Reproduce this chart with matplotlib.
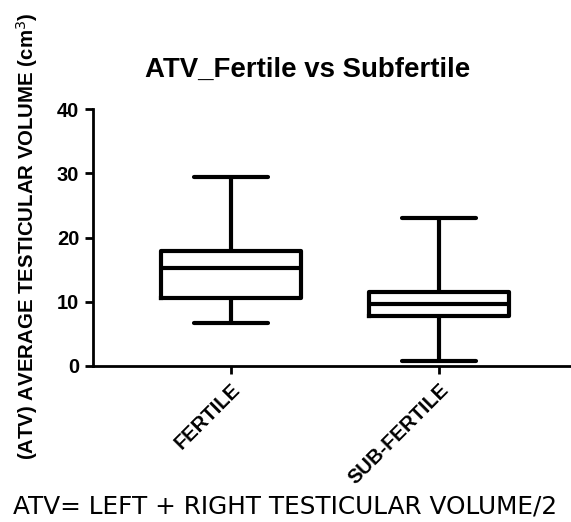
import matplotlib.pyplot as plt

# values (cm^3)
groups = ["FERTILE", "SUB-FERTILE"]
whisker_low = [6.7, 0.7]
q1 = [10.6, 7.7]
median = [15.3, 9.7]
q3 = [17.9, 11.5]
whisker_high = [29.4, 23.1]
y_ticks = [0, 10, 20, 30, 40]

plt.rcParams['font.family'] = ['Liberation Sans', 'DejaVu Sans']

fig = plt.figure(figsize=(5.71, 5.22), dpi=100)
ax = fig.add_axes([0.163, 0.299, 0.837, 0.492])

stats = []
for i, name in enumerate(groups):
    stats.append(dict(label=name, med=median[i], q1=q1[i], q3=q3[i],
                      whislo=whisker_low[i], whishi=whisker_high[i], fliers=[]))

line = dict(color='black', linewidth=3, solid_capstyle='round')
ax.bxp(stats, positions=[1, 2], widths=0.67, showfliers=False,
       boxprops=dict(color='black', linewidth=3),
       medianprops=dict(color='black', linewidth=3),
       whiskerprops=line, capprops=line, capwidths=0.36)

ax.set_xlim(0.337, 2.635)
ax.set_ylim(0, 40)
ax.set_yticks(y_ticks)
ax.set_xticks([1, 2])
ax.set_xticklabels(groups, rotation=45, ha='right', rotation_mode='anchor',
                   fontsize=14.5, fontweight='bold')
for lbl in ax.get_yticklabels():
    lbl.set_fontweight('bold')
    lbl.set_fontsize(14.5)

ax.spines['top'].set_visible(False)
ax.spines['right'].set_visible(False)
ax.spines['left'].set_linewidth(2)
ax.spines['bottom'].set_linewidth(2)
ax.tick_params(axis='both', width=2, length=6, color='black', pad=4)

# y label placed by hand, spans roughly y=10..462 px in the reference
fig.text(27 / 571, 1 - 236 / 522, "(ATV) AVERAGE TESTICULAR VOLUME (cm$^3$)",
         rotation=90, ha='center', va='center', fontsize=14.7, fontweight='bold')

fig.text(0.539, 0.866, "ATV_Fertile vs Subfertile", ha='center', va='center',
         fontsize=19.9, fontweight='bold')
fig.text(0.5, 1 - 514 / 522, "ATV= LEFT + RIGHT TESTICULAR VOLUME/2", ha='center',
         va='baseline', fontsize=17.8, family=['DejaVu Sans'])

fig.savefig('out.png', dpi=100)
